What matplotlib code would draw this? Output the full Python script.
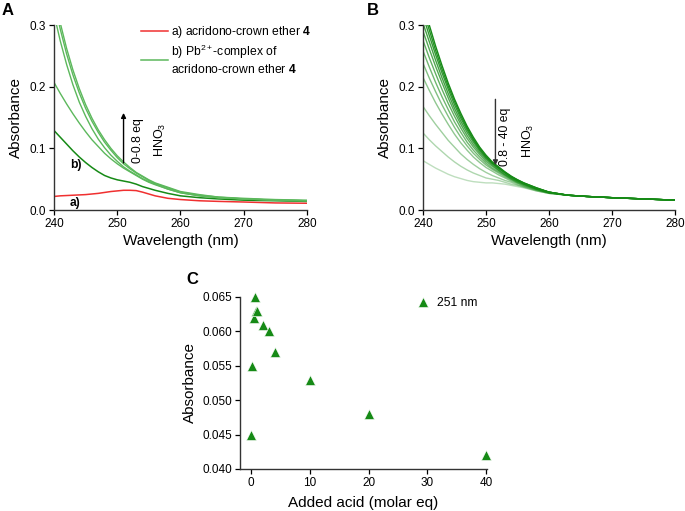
import matplotlib
matplotlib.use("Agg")
import matplotlib.pyplot as plt
import numpy as np

plt.rcParams['font.family'] = ['Liberation Sans', 'DejaVu Sans']
plt.rcParams['mathtext.fontset'] = 'custom'
plt.rcParams['mathtext.rm'] = 'Liberation Sans'
plt.rcParams['mathtext.bf'] = 'Liberation Sans:bold'
plt.rcParams['mathtext.it'] = 'Liberation Sans:italic'
plt.rcParams['mathtext.default'] = 'regular'

# longitudes de onda (nm)
wl = [240, 241, 242, 243, 244, 245, 246, 247, 248, 249, 250, 251, 252, 253,
      254, 255, 256, 258, 260, 263, 266, 270, 275, 280]

# Panel A: ligando libre (rojo) y complejo Pb2+ con 0-0.8 eq HNO3 (verdes)
ligand = [0.022, 0.023, 0.0235, 0.024, 0.0245, 0.025, 0.026, 0.027, 0.0285, 0.030,
          0.031, 0.032, 0.032, 0.0315, 0.029, 0.026, 0.023, 0.019, 0.017, 0.015,
          0.014, 0.013, 0.0115, 0.011]
complex_0 = [0.129, 0.118, 0.107, 0.096, 0.086, 0.077, 0.069, 0.062, 0.056, 0.052,
             0.049, 0.047, 0.045, 0.042, 0.038, 0.035, 0.032, 0.027, 0.023, 0.020,
             0.018, 0.016, 0.015, 0.014]
acid_A = [
    [0.207, 0.189, 0.172, 0.156, 0.141, 0.127, 0.114, 0.103, 0.092, 0.083, 0.075, 0.068,
     0.062, 0.056, 0.050, 0.045, 0.041, 0.034, 0.028, 0.023, 0.020, 0.018, 0.016, 0.015],
    [0.318, 0.274, 0.236, 0.203, 0.175, 0.152, 0.132, 0.115, 0.101, 0.089, 0.079, 0.070,
     0.063, 0.057, 0.051, 0.046, 0.042, 0.034, 0.028, 0.023, 0.020, 0.018, 0.016, 0.015],
    [0.338, 0.293, 0.253, 0.219, 0.190, 0.165, 0.144, 0.126, 0.110, 0.097, 0.085, 0.075,
     0.067, 0.060, 0.054, 0.048, 0.043, 0.036, 0.029, 0.024, 0.021, 0.018, 0.016, 0.015],
    [0.350, 0.303, 0.262, 0.227, 0.197, 0.171, 0.149, 0.130, 0.114, 0.100, 0.088, 0.078,
     0.069, 0.061, 0.055, 0.049, 0.044, 0.037, 0.030, 0.025, 0.021, 0.019, 0.017, 0.016],
]

# Panel B: 0.8-40 eq HNO3 (de claro a oscuro)
acid_B = [
    [0.080, 0.074, 0.068, 0.063, 0.058, 0.054, 0.051, 0.048, 0.046, 0.045, 0.044, 0.044,
     0.043, 0.042, 0.040, 0.038, 0.036, 0.031, 0.027, 0.024, 0.022, 0.020, 0.018, 0.016],
    [0.125, 0.114, 0.104, 0.095, 0.086, 0.078, 0.071, 0.065, 0.060, 0.056, 0.052, 0.050,
     0.048, 0.045, 0.042, 0.040, 0.037, 0.031, 0.027, 0.024, 0.022, 0.020, 0.018, 0.016],
    [0.168, 0.153, 0.139, 0.126, 0.113, 0.102, 0.091, 0.082, 0.074, 0.067, 0.061, 0.056,
     0.052, 0.048, 0.045, 0.041, 0.038, 0.032, 0.027, 0.024, 0.022, 0.020, 0.018, 0.016],
    [0.215, 0.194, 0.174, 0.156, 0.139, 0.123, 0.109, 0.097, 0.086, 0.077, 0.069, 0.063,
     0.057, 0.052, 0.047, 0.043, 0.039, 0.033, 0.028, 0.024, 0.022, 0.020, 0.018, 0.016],
    [0.238, 0.214, 0.192, 0.171, 0.152, 0.134, 0.118, 0.104, 0.092, 0.082, 0.073, 0.066,
     0.060, 0.054, 0.049, 0.044, 0.040, 0.033, 0.028, 0.024, 0.022, 0.020, 0.018, 0.016],
    [0.258, 0.232, 0.207, 0.184, 0.163, 0.143, 0.126, 0.110, 0.097, 0.086, 0.076, 0.068,
     0.062, 0.056, 0.050, 0.045, 0.041, 0.034, 0.028, 0.024, 0.022, 0.020, 0.018, 0.016],
    [0.275, 0.247, 0.221, 0.196, 0.173, 0.152, 0.133, 0.116, 0.102, 0.090, 0.079, 0.071,
     0.064, 0.057, 0.051, 0.046, 0.042, 0.034, 0.028, 0.024, 0.022, 0.020, 0.018, 0.016],
    [0.290, 0.261, 0.233, 0.207, 0.182, 0.159, 0.139, 0.121, 0.106, 0.093, 0.082, 0.073,
     0.065, 0.058, 0.052, 0.047, 0.042, 0.035, 0.029, 0.024, 0.022, 0.020, 0.018, 0.016],
    [0.303, 0.273, 0.243, 0.215, 0.189, 0.165, 0.144, 0.126, 0.110, 0.096, 0.084, 0.075,
     0.067, 0.060, 0.053, 0.048, 0.043, 0.035, 0.029, 0.024, 0.022, 0.020, 0.018, 0.016],
    [0.315, 0.283, 0.252, 0.223, 0.196, 0.171, 0.149, 0.130, 0.113, 0.098, 0.086, 0.076,
     0.068, 0.061, 0.054, 0.048, 0.043, 0.035, 0.029, 0.024, 0.022, 0.020, 0.018, 0.016],
    [0.325, 0.292, 0.259, 0.229, 0.201, 0.176, 0.153, 0.133, 0.115, 0.100, 0.087, 0.077,
     0.069, 0.061, 0.054, 0.049, 0.044, 0.036, 0.029, 0.024, 0.022, 0.020, 0.018, 0.016],
    [0.335, 0.300, 0.266, 0.235, 0.206, 0.180, 0.157, 0.136, 0.118, 0.102, 0.089, 0.078,
     0.070, 0.062, 0.055, 0.049, 0.044, 0.036, 0.029, 0.024, 0.022, 0.020, 0.018, 0.016],
]

# Panel C: absorbancia a 251 nm frente al acido agregado
added_acid = [0, 0.2, 0.4, 0.6, 0.8, 1.0, 2, 3, 4, 10, 20, 40]
abs_251 = [0.045, 0.055, 0.062, 0.065, 0.063, 0.063, 0.061, 0.060, 0.057, 0.053, 0.048, 0.042]

red = '#f03030'
dark_green = '#168a16'
light_green = '#5cb85c'
fs_tick = 8.5
fs_label = 11


def estilo(ax):
    ax.spines['top'].set_visible(False)
    ax.spines['right'].set_visible(False)
    for s in ('left', 'bottom'):
        ax.spines[s].set_color('#333333')
        ax.spines[s].set_linewidth(1.0)
    ax.tick_params(direction='out', length=3.5, width=0.9, labelsize=fs_tick, pad=2)


fig = plt.figure(figsize=(6.85, 5.11), dpi=100)

# ---- A ----
axA = fig.add_axes([0.0788, 0.589, 0.3693, 0.362])
axA.plot(wl, ligand, color=red, lw=1.1, label='a) acridono-crown ether $\\mathbf{4}$')
axA.plot(wl, complex_0, color=dark_green, lw=1.1,
         label='b) Pb$^{2+}$-complex of\nacridono-crown ether $\\mathbf{4}$')
for y in acid_A:
    axA.plot(wl, y, color=light_green, lw=1.0)
axA.set_xlim(240, 280)
axA.set_ylim(0, 0.3)
axA.set_xticks([240, 250, 260, 270, 280])
axA.set_yticks([0.0, 0.1, 0.2, 0.3])
axA.set_xlabel('Wavelength (nm)', fontsize=fs_label, labelpad=3)
axA.set_ylabel('Absorbance', fontsize=fs_label, labelpad=5)
estilo(axA)
leg = axA.legend(loc='upper left', bbox_to_anchor=(0.345, 1.005), frameon=False,
                 fontsize=8.7, handlelength=2.2, handletextpad=0.3, borderpad=0,
                 borderaxespad=0, labelspacing=0.25)
leg.get_lines()[1].set_color(light_green)
axA.annotate('', xy=(251, 0.162), xytext=(251, 0.072),
             arrowprops=dict(arrowstyle='-|>', color='black', lw=1.0, mutation_scale=7))
axA.text(253.3, 0.112, '0-0.8 eq', rotation=90, ha='center', va='center', fontsize=8.7)
axA.text(256.8, 0.114, 'HNO$_3$', rotation=90, ha='center', va='center', fontsize=9)
axA.text(243.5, 0.073, 'b)', fontweight='bold', ha='center', va='center', fontsize=8.7)
axA.text(243.3, 0.011, 'a)', fontweight='bold', ha='center', va='center', fontsize=8.7)

# ---- B ----
axB = fig.add_axes([0.6175, 0.589, 0.3679, 0.362])
n = len(acid_B)
for i, y in enumerate(acid_B):
    a = 0.28 + 0.72 * i / (n - 1)
    axB.plot(wl, y, color=dark_green, alpha=a, lw=1.0)
axB.set_xlim(240, 280)
axB.set_ylim(0, 0.3)
axB.set_xticks([240, 250, 260, 270, 280])
axB.set_yticks([0.0, 0.1, 0.2, 0.3])
axB.set_xlabel('Wavelength (nm)', fontsize=fs_label, labelpad=3)
axB.set_ylabel('Absorbance', fontsize=fs_label, labelpad=5)
estilo(axB)
axB.annotate('', xy=(251.5, 0.068), xytext=(251.5, 0.184),
             arrowprops=dict(arrowstyle='-|>', color='#333333', lw=1.0, mutation_scale=7))
axB.text(253.0, 0.119, '0.8 - 40 eq', rotation=90, ha='center', va='center', fontsize=8.7)
axB.text(256.7, 0.112, 'HNO$_3$', rotation=90, ha='center', va='center', fontsize=9)

# ---- C ----
axC = fig.add_axes([0.3504, 0.0822, 0.3606, 0.3366])
axC.plot(added_acid, abs_251, linestyle='none', marker='^', ms=6.5, color=dark_green,
         markeredgecolor='white', markeredgewidth=0.4, label='251 nm', clip_on=False)
axC.set_xlim(-1.9, 40.2)
axC.set_ylim(0.040, 0.065)
axC.set_xticks([0, 10, 20, 30, 40])
axC.set_yticks([0.040, 0.045, 0.050, 0.055, 0.060, 0.065])
axC.set_yticklabels(['%.3f' % v for v in [0.040, 0.045, 0.050, 0.055, 0.060, 0.065]])
axC.set_xlabel('Added acid (molar eq)', fontsize=fs_label, labelpad=5)
axC.set_ylabel('Absorbance', fontsize=fs_label, labelpad=4)
estilo(axC)
axC.legend(loc='upper left', bbox_to_anchor=(0.71, 1.0), frameon=False, fontsize=8.7,
           handlelength=1.2, handletextpad=0.6, borderpad=0, borderaxespad=0, numpoints=1)

# etiquetas de panel
fig.text(0.002, 0.995, 'A', fontsize=12, fontweight='bold', va='top', ha='left')
fig.text(0.535, 0.995, 'B', fontsize=12, fontweight='bold', va='top', ha='left')
fig.text(0.272, 0.468, 'C', fontsize=12, fontweight='bold', va='top', ha='left')

fig.savefig('out.png', dpi=100)
